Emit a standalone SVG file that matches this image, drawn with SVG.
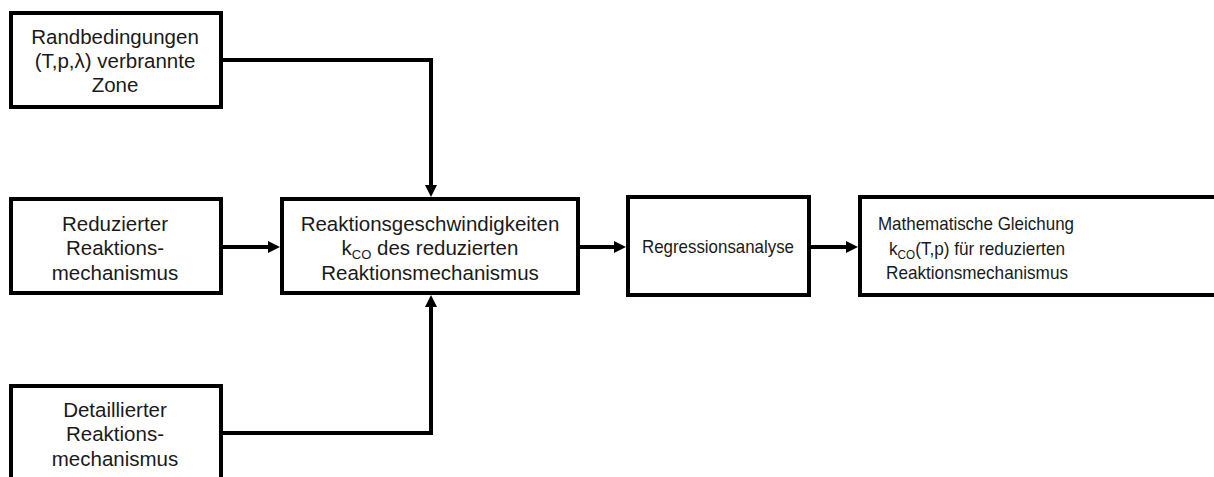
<svg xmlns="http://www.w3.org/2000/svg" width="1214" height="477" viewBox="0 0 1214 477">
  <style>
    .box { fill: #ffffff; stroke: #000000; stroke-width: 4; }
    .lbl { font-family: "Liberation Sans", Arial, sans-serif; font-size: 20.5px; fill: #1a1a1a; text-anchor: middle; }
    .narrow { font-size: 19px; }
    .sub { font-size: 13px; }
    .wire { fill: none; stroke: #000000; stroke-width: 4; marker-end: url(#arrow); }
  </style>
  <defs>
    <marker id="arrow" markerUnits="userSpaceOnUse" markerWidth="12" markerHeight="12" refX="4" refY="6" orient="auto">
      <path d="M0,0 L12,6 L0,12 z" fill="#000000"/>
    </marker>
  </defs>
  <rect width="1214" height="477" fill="#ffffff"/>

  <g id="connectors">
    <path class="wire" d="M221 60 H431 V189"/>
    <path class="wire" d="M221 247 H272"/>
    <path class="wire" d="M221 433 H431 V303"/>
    <path class="wire" d="M580 247 H618"/>
    <path class="wire" d="M811 247 H850"/>
  </g>

  <g id="randbedingungen">
    <rect class="box" x="11" y="13" width="210" height="94"/>
    <text class="lbl" x="115" y="44">Randbedingungen</text>
    <text class="lbl" x="115" y="68">(T,p,λ) verbrannte</text>
    <text class="lbl" x="115" y="92">Zone</text>
  </g>

  <g id="reduzierter">
    <rect class="box" x="11" y="199" width="210" height="94"/>
    <text class="lbl" x="115" y="231">Reduzierter</text>
    <text class="lbl" x="115" y="255">Reaktions-</text>
    <text class="lbl" x="115" y="280">mechanismus</text>
  </g>

  <g id="detaillierter">
    <rect class="box" x="11" y="386" width="210" height="120"/>
    <text class="lbl" x="115" y="417">Detaillierter</text>
    <text class="lbl" x="115" y="441">Reaktions-</text>
    <text class="lbl" x="115" y="466">mechanismus</text>
  </g>

  <g id="reaktionsgeschwindigkeiten">
    <rect class="box" x="282" y="199" width="296" height="94"/>
    <text class="lbl" x="430" y="231">Reaktionsgeschwindigkeiten</text>
    <text class="lbl" x="430" y="255">k<tspan class="sub" dy="4">CO</tspan><tspan dy="-4"> des reduzierten</tspan></text>
    <text class="lbl" x="430" y="280">Reaktionsmechanismus</text>
  </g>

  <g id="regression">
    <rect class="box" x="628" y="197" width="181" height="98"/>
    <text class="lbl narrow" x="718" y="253" textLength="152" lengthAdjust="spacingAndGlyphs">Regressionsanalyse</text>
  </g>

  <g id="gleichung">
    <rect class="box" x="860" y="197" width="400" height="98"/>
    <text class="lbl narrow" x="976" y="230" textLength="196" lengthAdjust="spacingAndGlyphs">Mathematische Gleichung</text>
    <text class="lbl narrow" x="977" y="255" textLength="176" lengthAdjust="spacingAndGlyphs">k<tspan class="sub" dy="4">CO</tspan><tspan dy="-4">(T,p) für reduzierten</tspan></text>
    <text class="lbl narrow" x="977" y="279" textLength="182" lengthAdjust="spacingAndGlyphs">Reaktionsmechanismus</text>
  </g>
</svg>
